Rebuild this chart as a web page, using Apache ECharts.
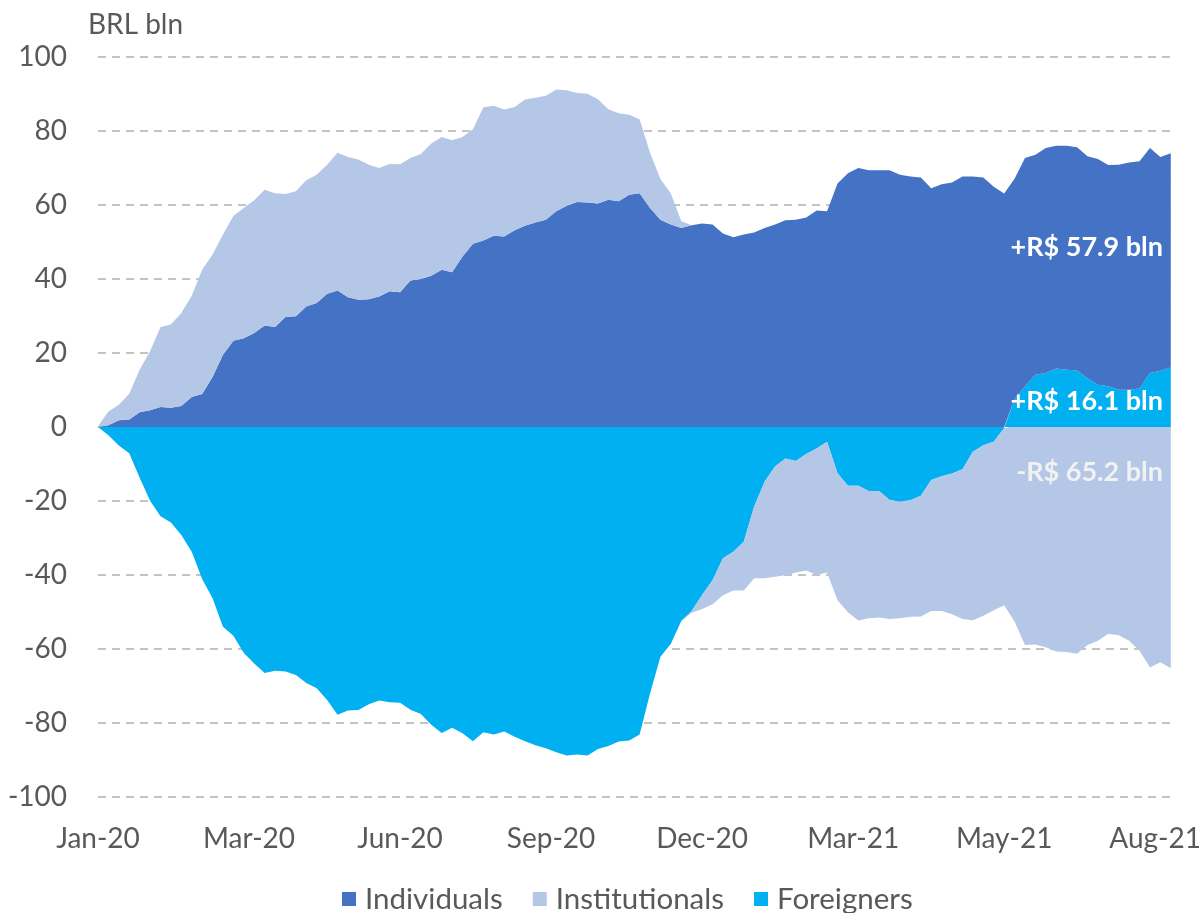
<!DOCTYPE html>
<html>
<head>
<meta charset="utf-8">
<script src="https://cdn.jsdelivr.net/npm/echarts@6/dist/echarts.min.js"></script>
<style>
  html, body { margin: 0; padding: 0; background: #ffffff; }
  #chart { width: 1204px; height: 913px; }
</style>
</head>
<body>
<div id="chart"></div>
<script>
// Cumulative net flows into Brazilian equities by investor type, BRL bln.
// One value every 4 trading days, starting on the first session of Jan-20.
const STEP = 4;            // trading days between consecutive values
const LABEL_EVERY = 58;    // trading days between axis labels

const tickLabels = ['Jan-20', 'Mar-20', 'Jun-20', 'Sep-20', 'Dec-20', 'Mar-21', 'May-21', 'Aug-21'];

const individuals = [
  0, 0.5, 1.8, 2.0, 4.0, 4.5, 5.4, 5.2, 5.7, 8.1,
  8.9, 13.5, 19.5, 23.3, 24.0, 25.4, 27.4, 27.0, 29.7, 29.9,
  32.6, 33.5, 36.0, 36.9, 35.1, 34.4, 34.5, 35.3, 36.7, 36.4,
  39.6, 40.0, 40.9, 42.5, 41.8, 46.1, 49.5, 50.4, 51.7, 51.5,
  53.2, 54.4, 55.3, 56.0, 58.3, 59.8, 60.8, 60.7, 60.4, 61.4,
  61.0, 62.8, 63.2, 59.2, 56.0, 54.7, 53.8, 54.5, 55.0, 54.7,
  52.3, 51.3, 52.0, 52.6, 53.8, 54.7, 55.9, 56.0, 56.6, 58.5,
  58.3, 65.8, 68.6, 70.0, 69.4, 69.4, 69.4, 68.2, 67.7, 67.4,
  64.5, 65.6, 66.1, 67.7, 67.7, 67.4, 64.9, 63.1, 59.5, 61.7,
  59.5, 60.8, 60.2, 60.5, 60.3, 60.0, 61.0, 59.8, 60.8, 61.4,
  61.4, 60.8, 57.8, 57.9
];

const institutionals = [
  0.2, 3.7, 4.2, 7.0, 11.5, 16.0, 21.6, 22.5, 25.1, 27.4,
  33.6, 33.1, 32.5, 33.7, 35.2, 35.9, 36.7, 36.2, 33.3, 33.8,
  34.1, 34.7, 34.9, 37.2, 37.9, 37.9, 36.4, 34.7, 34.4, 34.6,
  33.1, 33.8, 35.7, 35.9, 35.7, 32.3, 31.0, 36.0, 35.1, 34.3,
  33.3, 34.1, 33.7, 33.5, 32.9, 31.2, 29.5, 29.4, 28.2, 24.5,
  23.8, 21.6, 20.0, 14.9, 11.0, 8.4, 1.8, -0.5, -3.8, -6.5,
  -10.0, -10.5, -13.2, -19.4, -26.1, -29.8, -31.6, -30.1, -31.5, -34.2,
  -35.3, -34.3, -34.2, -36.4, -34.4, -34.2, -32.2, -31.5, -31.5, -32.6,
  -35.4, -36.4, -38.0, -40.5, -45.5, -46.1, -45.5, -47.9, -52.6, -58.9,
  -58.8, -59.5, -60.7, -60.8, -61.3, -58.9, -57.8, -55.9, -56.3, -57.8,
  -60.5, -65.0, -63.6, -65.2
];

const foreigners = [
  0, -2.2, -5.0, -7.1, -13.7, -19.9, -24.1, -25.8, -29.2, -33.7,
  -41.1, -46.3, -54.0, -56.4, -61.1, -63.9, -66.5, -65.9, -66.1, -67.0,
  -69.2, -70.6, -73.8, -77.8, -76.6, -76.5, -74.9, -73.9, -74.4, -74.5,
  -76.4, -77.6, -80.5, -82.7, -81.3, -82.8, -84.9, -82.5, -83.1, -82.3,
  -83.7, -84.9, -86.0, -86.8, -87.9, -88.8, -88.5, -88.8, -87.0, -86.2,
  -85.0, -84.7, -83.1, -72.0, -62.1, -58.6, -52.4, -49.7, -45.4, -41.4,
  -35.5, -33.7, -31.0, -21.5, -14.8, -10.7, -8.5, -9.2, -7.3, -5.8,
  -4.0, -12.5, -15.9, -15.9, -17.3, -17.3, -19.7, -20.2, -19.8, -18.6,
  -14.3, -13.3, -12.6, -11.4, -6.7, -4.9, -4.0, -0.3, 7.6, 11.0,
  14.1, 14.6, 15.8, 15.5, 15.3, 13.2, 11.4, 11.0, 10.1, 10.1,
  10.4, 14.6, 15.2, 16.1
];

const COLORS = { individuals: '#4472C4', institutionals: '#B4C7E7', foreigners: '#00B0F0' };
const TEXT = '#595959';
const FONT = 'Lato, "Open Sans", sans-serif';

// trading-day number of each value
const days = individuals.map((_, i) => String(i * STEP));
const lastDay = (individuals.length - 1) * STEP;

// A series that changes sign is split into its positive and negative parts,
// so each part stacks on the side of zero where it belongs.
function signPart(arr, positive) {
  const same = v => (positive ? v >= 0 : v < 0);
  return arr.map((v, i) => {
    if (same(v)) return v;
    const touches = (i > 0 && same(arr[i - 1])) || (i < arr.length - 1 && same(arr[i + 1]));
    return touches ? 0 : null;
  });
}

function areaSeries(name, data, color) {
  return {
    name, type: 'line', xAxisIndex: 0, stack: 'flows', stackStrategy: 'samesign',
    data, symbol: 'none', showSymbol: false, smooth: false,
    lineStyle: { width: 0, color }, itemStyle: { color },
    areaStyle: { color, opacity: 1 }, emphasis: { disabled: true },
    connectNulls: false
  };
}

const lastIdx = individuals.length - 1;
const fmt = v => (v >= 0 ? '+' : '-') + 'R$ ' + Math.abs(v).toFixed(1) + ' bln';
// end-of-period totals written inside the areas
const endLabel = (y, value, fill) => ({
  type: 'text', x: 1163, y, z: 100, zlevel: 0, silent: true,
  style: {
    text: fmt(value), fill, font: 'bold 27px ' + FONT,
    textAlign: 'right', align: 'right', textVerticalAlign: 'middle', verticalAlign: 'middle'
  }
});

const chart = echarts.init(document.getElementById('chart'), null, { renderer: 'canvas' });
chart.setOption({
  animation: false,
  backgroundColor: '#ffffff',
  title: {
    text: 'BRL bln', left: 83, top: 6,
    textStyle: { color: TEXT, fontFamily: FONT, fontSize: 28, fontWeight: 'normal' }
  },
  grid: { left: 98, right: 27, top: 57, bottom: 116, containLabel: false },
  legend: {
    data: ['Individuals', 'Institutionals', 'Foreigners'],
    left: 337, top: 879, icon: 'rect', itemWidth: 14, itemHeight: 14, itemGap: 30,
    textStyle: { color: TEXT, fontFamily: FONT, fontSize: 29.5, padding: [0, 0, 0, 4] }
  },
  xAxis: [
    // sampled trading days carrying the areas
    { type: 'category', data: days, boundaryGap: false, position: 'top', show: false },
    // month labels, one every LABEL_EVERY trading days
    {
      type: 'value', min: 0, max: lastDay, interval: LABEL_EVERY, position: 'bottom',
      axisLine: { show: false }, axisTick: { show: false }, splitLine: { show: false },
      axisLabel: {
        color: TEXT, fontFamily: FONT, fontSize: 28, margin: 28, showMaxLabel: false,
        formatter: v => (v % LABEL_EVERY === 0 && tickLabels[v / LABEL_EVERY]) || ''
      }
    }
  ],
  yAxis: {
    type: 'value', min: -100, max: 100, interval: 20,
    axisLine: { show: false }, axisTick: { show: false },
    axisLabel: { color: TEXT, fontFamily: FONT, fontSize: 28, margin: 31 },
    splitLine: { lineStyle: { color: '#B0B0B0', width: 1.5, type: [8, 6] } }
  },
  series: [
    areaSeries('Foreigners', foreigners, COLORS.foreigners),
    areaSeries('Institutionals', signPart(institutionals, false), COLORS.institutionals),
    areaSeries('Individuals', individuals, COLORS.individuals),
    areaSeries('Institutionals', signPart(institutionals, true), COLORS.institutionals)
  ],
  graphic: {
    elements: [
      endLabel(247, individuals[lastIdx], '#ffffff'),
      endLabel(401, foreigners[lastIdx], '#ffffff'),
      endLabel(472, institutionals[lastIdx], '#F2F2F2')
    ]
  }
});
</script>
</body>
</html>
